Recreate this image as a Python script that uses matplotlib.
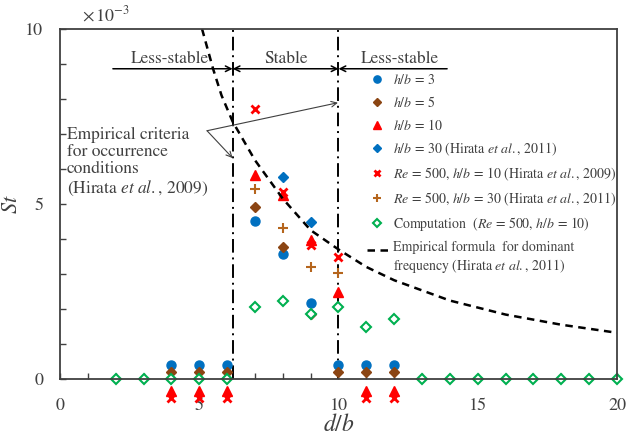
import numpy as np
import matplotlib.pyplot as plt
from matplotlib.ticker import MultipleLocator

plt.rcParams['font.family'] = ['STIXGeneral', 'DejaVu Serif']
plt.rcParams['mathtext.fontset'] = 'stix'

gris = '#404040'

# St (x 10^-3) contra d/b ; valores negativos = sin frecuencia dominante
db_h3 = [4, 5, 6, 7, 8, 9, 10, 11, 12]
st_h3 = [0.4, 0.4, 0.4, 4.51, 3.57, 2.17, 0.4, 0.4, 0.4]

db_h5 = [4, 5, 6, 7, 8, 9, 10, 11, 12]
st_h5 = [0.2, 0.2, 0.2, 4.91, 3.77, 1.86, 0.2, 0.2, 0.2]

db_h10 = [4, 5, 6, 7, 8, 9, 10, 11, 12]
st_h10 = [-0.35, -0.35, -0.35, 5.83, 5.26, 3.97, 2.49, -0.35, -0.35]

db_h30 = [8, 9]
st_h30 = [5.77, 4.49]

db_re_h10 = [4, 5, 6, 7, 8, 9, 10, 11, 12]
st_re_h10 = [-0.55, -0.55, -0.55, 7.71, 5.34, 3.83, 3.49, -0.55, -0.55]

db_re_h30 = [7, 8, 9, 10]
st_re_h30 = [5.43, 4.31, 3.20, 3.03]

db_comp = [2, 3, 4, 5, 6, 7, 8, 9, 10, 11, 12, 13, 14, 15, 16, 17, 18, 19, 20]
st_comp = [0, 0, 0, 0, 0, 2.06, 2.23, 1.86, 2.06, 1.49, 1.71, 0, 0, 0, 0, 0, 0, 0, 0]

db_emp = [5.1, 5.5, 5.8, 6.2, 6.6, 7, 7.5, 8, 9, 10, 11, 12, 14, 16, 18, 20]
st_emp = [10, 8.85, 8.1, 7.35, 6.8, 6.25, 5.7, 5.15, 4.25, 3.7, 3.2, 2.82, 2.24, 1.84, 1.55, 1.32]

limite_1 = 6.2
limite_2 = 10

fig = plt.figure(figsize=(6.28, 4.41), dpi=100)
ax = fig.add_axes([0.0955, 0.1406, 0.887, 0.794])

# lineas de limite (criterio empirico)
for xl in [limite_1, limite_2]:
    ax.plot([xl, xl], [0, 10], c='black', lw=1.4, dashes=(7, 2.5, 1, 2.5), zorder=1)

ax.plot(db_h3, st_h3, ls='none', marker='o', ms=6.5, c='#0070C0', clip_on=False,
        label='$h/b$ = 3')
ax.plot(db_h5, st_h5, ls='none', marker='D', ms=5.5, c='#8B4513', clip_on=False,
        label='$h/b$ = 5')
ax.plot(db_h10, st_h10, ls='none', marker='^', ms=7, c='#FF0000', clip_on=False,
        label='$h/b$ = 10')
ax.plot(db_h30, st_h30, ls='none', marker='D', ms=5.5, c='#0070C0', clip_on=False,
        label='$h/b$ = 30 (Hirata $et\\ al.$, 2011)')
ax.plot(db_re_h10, st_re_h10, ls='none', marker='x', ms=6, mew=2, c='#FF0000', clip_on=False,
        label='$Re$ = 500, $h/b$ = 10 (Hirata $et\\ al.$, 2009)')
ax.plot(db_re_h30, st_re_h30, ls='none', marker='+', ms=7, mew=1.5, c='#B5651D', clip_on=False,
        label='$Re$ = 500, $h/b$ = 30 (Hirata $et\\ al.$, 2011)')
ax.plot(db_comp, st_comp, ls='none', marker='D', ms=5, mfc='white', mec='#00B050', mew=1.5,
        clip_on=False, label='Computation  ($Re$ = 500, $h/b$ = 10)')
ax.plot(db_emp, st_emp, c='black', lw=1.8, dashes=(3, 2.2),
        label='Empirical formula  for dominant\nfrequency (Hirata $et\\ al.$, 2011)')

# flechas de regiones
y_fl = 8.86
flecha = dict(arrowstyle='->', color='black', lw=1.1, shrinkA=0, shrinkB=0)
ax.annotate('', xy=(limite_1, y_fl), xytext=(1.9, y_fl), arrowprops=flecha)
ax.annotate('', xy=(limite_1, y_fl), xytext=(limite_2, y_fl),
            arrowprops=dict(flecha, arrowstyle='<->'))
ax.annotate('', xy=(limite_2, y_fl), xytext=(13.9, y_fl), arrowprops=flecha)
ax.text(3.95, 9.15, 'Less-stable', ha='center', va='center', fontsize=12.5, color=gris)
ax.text(8.1, 9.15, 'Stable', ha='center', va='center', fontsize=12.5, color=gris)
ax.text(12.2, 9.15, 'Less-stable', ha='center', va='center', fontsize=12.5, color=gris)

ax.text(0.25, 7.2, 'Empirical criteria\nfor occurrence\nconditions\n(Hirata $et\\ al.$, 2009)',
        ha='left', va='top', fontsize=12.5, color=gris, linespacing=1.1)
flecha2 = dict(arrowstyle='->', color=gris, lw=0.8, shrinkA=0, shrinkB=0)
ax.annotate('', xy=(limite_1, 6.31), xytext=(5.28, 7.09), arrowprops=flecha2)
ax.annotate('', xy=(9.98, 7.89), xytext=(5.28, 7.09), arrowprops=flecha2)

ax.set_xlim(0, 20)
ax.set_ylim(0, 10)
ax.xaxis.set_major_locator(MultipleLocator(5))
ax.xaxis.set_minor_locator(MultipleLocator(1))
ax.yaxis.set_major_locator(MultipleLocator(5))
ax.yaxis.set_minor_locator(MultipleLocator(1))
ax.tick_params(which='both', direction='in', length=4, color=gris, width=1)
ax.tick_params(axis='x', pad=14, labelsize=13, labelcolor=gris)
ax.tick_params(axis='y', pad=12, labelsize=13, labelcolor=gris)
for s in ax.spines.values():
    s.set_color(gris)
    s.set_linewidth(1.3)

ax.set_xlabel('$d/b$', fontsize=17, color=gris, labelpad=0)
ax.set_ylabel('$St$', fontsize=16, color=gris)
ax.yaxis.set_label_coords(-0.068, 0.5)
ax.text(0.04, 1.01, '$\\times\\,10^{-3}$', transform=ax.transAxes, fontsize=13,
        color=gris, ha='left', va='bottom')

leg = ax.legend(loc='upper left', bbox_to_anchor=(0.551, 0.873), frameon=False, fontsize=10,
                labelspacing=0.55, handlelength=1.5, handletextpad=0.4, borderaxespad=0,
                borderpad=0, markerscale=0.8, labelcolor=gris)
# la linea discontinua de la leyenda va a la altura del primer renglon
linea = leg.legend_handles[-1]
linea.set_ydata([v + 5.8 for v in linea.get_ydata()])

fig.savefig('out.png', dpi=100)
